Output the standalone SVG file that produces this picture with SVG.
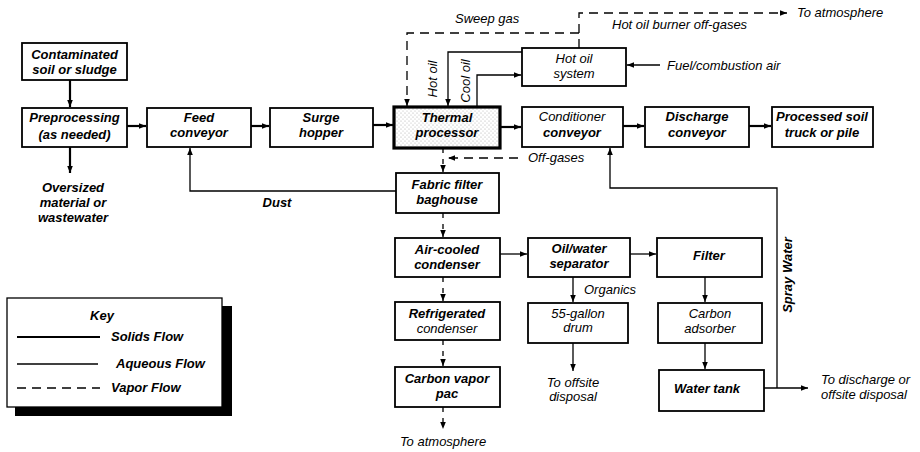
<svg xmlns="http://www.w3.org/2000/svg" width="920" height="452" viewBox="0 0 920 452">
<defs>
<style>
.box{fill:#fff;stroke:#000;stroke-width:1.8}
.t{font-family:"Liberation Sans",Arial,sans-serif;font-style:italic;font-weight:bold;font-size:13px;fill:#000;text-anchor:middle}
.tn{font-family:"Liberation Sans",Arial,sans-serif;font-style:italic;font-size:13px;fill:#000;text-anchor:middle}
.ts{font-family:"Liberation Sans",Arial,sans-serif;font-style:italic;font-weight:bold;font-size:13px;fill:#000}
.n{font-family:"Liberation Sans",Arial,sans-serif;font-style:italic;font-size:13px;fill:#000}
.s{fill:none;stroke:#000;stroke-width:2.2}
.a{fill:none;stroke:#000;stroke-width:1.3}
.v{fill:none;stroke:#000;stroke-width:1.3;stroke-dasharray:9 6}
.vs{fill:none;stroke:#000;stroke-width:1.3;stroke-dasharray:5 6}
</style>
<marker id="ar" viewBox="0 0 10 10" refX="10" refY="5" markerWidth="7" markerHeight="7" markerUnits="userSpaceOnUse" orient="auto">
<path d="M0,1 L10,5 L0,9 Z" fill="#000"/>
</marker>
<pattern id="dots" width="4" height="4" patternUnits="userSpaceOnUse">
<rect width="4" height="4" fill="#fff"/>
<circle cx="1" cy="1" r="0.6" fill="#aaa"/>
<circle cx="3" cy="3" r="0.6" fill="#bbb"/>
</pattern>
</defs>
<rect width="920" height="452" fill="#fff"/>

<g id="connectors">
<path class="s" d="M70,80 V107" marker-end="url(#ar)"/>
<path class="s" d="M70,147 V173" marker-end="url(#ar)"/>
<path class="s" d="M127,126 H146" marker-end="url(#ar)"/>
<path class="s" d="M251,126 H269" marker-end="url(#ar)"/>
<path class="s" d="M373,125 H393" marker-end="url(#ar)"/>
<path class="s" d="M500,127 H521" marker-end="url(#ar)"/>
<path class="s" d="M623,126 H644" marker-end="url(#ar)"/>
<path class="s" d="M749,126 H771" marker-end="url(#ar)"/>
<path class="a" d="M522,52 H448 V106" marker-end="url(#ar)"/>
<path class="a" d="M477,107 V75 H521" marker-end="url(#ar)"/>
<path class="a" d="M660,65 H627" marker-end="url(#ar)"/>
<path class="a" d="M396,191 H190 V148" marker-end="url(#ar)"/>
<path class="a" d="M500,254 H527" marker-end="url(#ar)"/>
<path class="a" d="M630,254 H656" marker-end="url(#ar)"/>
<path class="a" d="M573,277 V302" marker-end="url(#ar)"/>
<path class="a" d="M573,343 V371" marker-end="url(#ar)"/>
<path class="a" d="M705,277 V302" marker-end="url(#ar)"/>
<path class="a" d="M705,343 V369" marker-end="url(#ar)"/>
<path class="a" d="M764,388 H808" marker-end="url(#ar)"/>
<path class="a" d="M777,388 V188 H610 V148" marker-end="url(#ar)"/>
<path class="v" d="M579,48 V13 H787" marker-end="url(#ar)"/>
<path class="v" d="M579,33 H407 V106" marker-end="url(#ar)"/>
<path class="v" d="M518,158 H448" marker-end="url(#ar)"/>
<path class="vs" d="M443,148 V172" marker-end="url(#ar)"/>
<path class="vs" d="M443,213 V237" marker-end="url(#ar)"/>
<path class="vs" d="M443,277 V301" marker-end="url(#ar)"/>
<path class="vs" d="M443,340 V366" marker-end="url(#ar)"/>
<path class="vs" d="M443,407 V429" marker-end="url(#ar)"/>
</g>

<g id="contaminated"><rect class="box" x="22" y="43" width="105" height="37"/><text class="t" x="74.5" y="59">Contaminated</text><text class="t" x="74.5" y="74">soil or sludge</text></g>
<g id="preprocessing"><rect class="box" x="22" y="108" width="105" height="39"/><text class="t" x="74.5" y="122">Preprocessing</text><text class="t" x="74.5" y="139">(as needed)</text></g>
<g id="feed"><rect class="box" x="147" y="108" width="104" height="39"/><text class="t" x="199" y="122">Feed</text><text class="t" x="199" y="137">conveyor</text></g>
<g id="surge"><rect class="box" x="270" y="108" width="103" height="39"/><text class="t" x="321" y="122">Surge</text><text class="t" x="321" y="137">hopper</text></g>
<g id="thermal"><rect x="394" y="107" width="106" height="41" fill="url(#dots)" stroke="#000" stroke-width="3.2"/><text class="t" x="447" y="122">Thermal</text><text class="t" x="447" y="137">processor</text></g>
<g id="conditioner"><rect class="box" x="522" y="107" width="101" height="40"/><text class="tn" x="572" y="121">Conditioner</text><text class="t" x="572" y="137">conveyor</text></g>
<g id="discharge"><rect class="box" x="645" y="107" width="104" height="40"/><text class="t" x="697" y="121">Discharge</text><text class="t" x="697" y="137">conveyor</text></g>
<g id="processed"><rect class="box" x="772" y="107" width="101" height="40"/><text class="t" x="822" y="121">Processed soil</text><text class="t" x="822" y="137">truck or pile</text></g>
<g id="hotoil"><rect class="box" x="522" y="48" width="104" height="38"/><text class="tn" x="574" y="63">Hot oil</text><text class="tn" x="574" y="78">system</text></g>
<g id="fabric"><rect class="box" x="396" y="173" width="103" height="40"/><text class="t" x="447" y="189">Fabric filter</text><text class="t" x="447" y="204">baghouse</text></g>
<g id="aircooled"><rect class="box" x="395" y="238" width="105" height="39"/><text class="t" x="447" y="254">Air-cooled</text><text class="t" x="447" y="269">condenser</text></g>
<g id="oilwater"><rect class="box" x="528" y="238" width="102" height="39"/><text class="t" x="579" y="253">Oil/water</text><text class="t" x="579" y="268">separator</text></g>
<g id="filter"><rect class="box" x="657" y="238" width="105" height="39"/><text class="t" x="709" y="260">Filter</text></g>
<g id="refrigerated"><rect class="box" x="395" y="302" width="105" height="38"/><text class="t" x="447" y="318">Refrigerated</text><text class="tn" x="447" y="333">condenser</text></g>
<g id="drum"><rect class="box" x="528" y="303" width="100" height="40"/><text class="tn" x="578" y="318">55-gallon</text><text class="tn" x="578" y="332">drum</text></g>
<g id="carbonads"><rect class="box" x="658" y="303" width="104" height="40"/><text class="tn" x="710" y="318">Carbon</text><text class="tn" x="710" y="333">adsorber</text></g>
<g id="vaporpac"><rect class="box" x="395" y="367" width="105" height="40"/><text class="t" x="447" y="383">Carbon vapor</text><text class="t" x="447" y="398">pac</text></g>
<g id="watertank"><rect class="box" x="659" y="370" width="105" height="41"/><text class="t" x="707" y="393">Water tank</text></g>

<g id="labels">
<text class="t" x="73" y="192">Oversized</text>
<text class="t" x="73" y="207">material or</text>
<text class="t" x="73" y="222">wastewater</text>
<text class="t" x="277" y="207">Dust</text>
<text class="n" x="455" y="23">Sweep gas</text>
<text class="n" x="612" y="29">Hot oil burner off-gases</text>
<text class="n" x="797" y="17">To atmosphere</text>
<text class="n" x="667" y="70">Fuel/combustion air</text>
<text class="n" x="528" y="162">Off-gases</text>
<text class="tn" transform="translate(437,79) rotate(-90)">Hot oil</text>
<text class="tn" transform="translate(470,81) rotate(-90)">Cool oil</text>
<text class="n" x="584" y="294">Organics</text>
<text class="tn" x="573" y="387">To offsite</text>
<text class="tn" x="573" y="401">disposal</text>
<text class="tn" x="443" y="446">To atmosphere</text>
<text class="t" transform="translate(792,275) rotate(-90)">Spray Water</text>
<text class="n" x="821" y="384">To discharge or</text>
<text class="n" x="821" y="399">offsite disposal</text>
</g>

<g id="key">
<rect x="15" y="306" width="217" height="110" fill="#000"/>
<rect x="7" y="298" width="215" height="109" fill="#fff" stroke="#000" stroke-width="1.3"/>
<text class="t" x="102" y="320">Key</text>
<path class="s" d="M17,337 H100"/>
<text class="ts" x="111" y="341">Solids Flow</text>
<path class="a" d="M17,364 H98"/>
<text class="ts" x="116" y="368">Aqueous Flow</text>
<path class="v" d="M17,388 H100"/>
<text class="ts" x="111" y="392">Vapor Flow</text>
</g>
</svg>
